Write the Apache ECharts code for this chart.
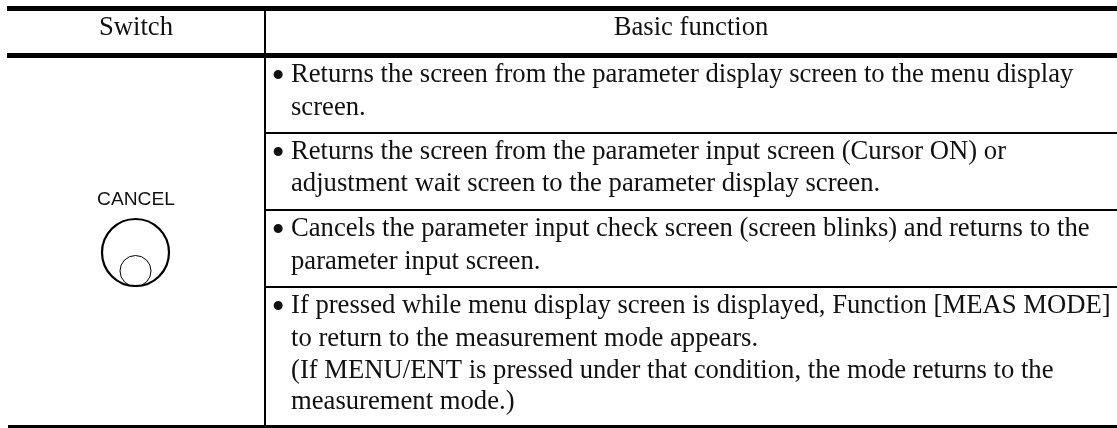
<!DOCTYPE html>
<html>
<head>
<meta charset="utf-8">
<style>
  html, body { margin: 0; padding: 0; background: #fff; overflow: hidden; }
  #chart { width: 1117px; height: 428px; }
</style>
<script src="https://cdn.jsdelivr.net/npm/echarts@6/dist/echarts.min.js"></script>
</head>
<body>
<div id="chart"></div>
<script>
const headers = ['Switch', 'Basic function']
const switchLabel = 'CANCEL'
const row1 = ['Returns the screen from the parameter display screen to the menu display', 'screen.']
const row2 = ['Returns the screen from the parameter input screen (Cursor ON) or', 'adjustment wait screen to the parameter display screen.']
const row3 = ['Cancels the parameter input check screen (screen blinks) and returns to the', 'parameter input screen.']
const row4 = [
  'If pressed while menu display screen is displayed, Function [MEAS MODE]',
  'to return to the measurement mode appears.',
  '(If MENU/ENT is pressed under that condition, the mode returns to the',
  'measurement mode.)'
]

const serif = '"Liberation Serif", "Times New Roman", serif'
const fontSize = 26.67
const elements = []

const rule = (x1, y1, x2, y2, width) => {
  elements.push({
    type: 'line',
    shape: { x1, y1, x2, y2 },
    style: { stroke: '#000', lineWidth: width }
  })
}

const label = (text, x, y, align = 'left', font = serif, size = fontSize) => {
  elements.push({
    type: 'text',
    x,
    y,
    style: { text, fill: '#111', font: `${size}px ${font}`, align, verticalAlign: 'middle' }
  })
}

// 表格线
rule(7, 8.5, 1117, 8.5, 5)
rule(7, 55.5, 1117, 55.5, 5)
rule(265, 8, 265, 427, 2)
rule(265, 133, 1117, 133, 2)
rule(265, 210, 1117, 210, 2)
rule(265, 287, 1117, 287, 2)
rule(8, 426.5, 1117, 426.5, 3)

// 表头
label(headers[0], 136, 28, 'center')
label(headers[1], 691, 28, 'center')

// 每行文字
const drawRow = (lines, ys) => {
  label('•', 271.4, ys[0] + 3, 'left', serif, 38)
  lines.forEach((line, i) => label(line, 291, ys[i]))
}
drawRow(row1, [75, 108])
drawRow(row2, [152, 184])
drawRow(row3, [229, 262])
drawRow(row4, [306, 339, 371, 402])

// 开关图标
label(switchLabel, 136, 200, 'center', '"Liberation Sans", Arial, sans-serif', 19.2)
elements.push({
  type: 'circle',
  shape: { cx: 135.5, cy: 252.5, r: 33.5 },
  style: { fill: 'none', stroke: '#000', lineWidth: 2.2 }
})
elements.push({
  type: 'circle',
  shape: { cx: 135.5, cy: 271, r: 15.5 },
  style: { fill: 'none', stroke: '#000', lineWidth: 1 }
})

const chart = echarts.init(document.getElementById('chart'))
chart.setOption({
  backgroundColor: '#fff',
  animation: false,
  graphic: { elements }
})
</script>
</body>
</html>
